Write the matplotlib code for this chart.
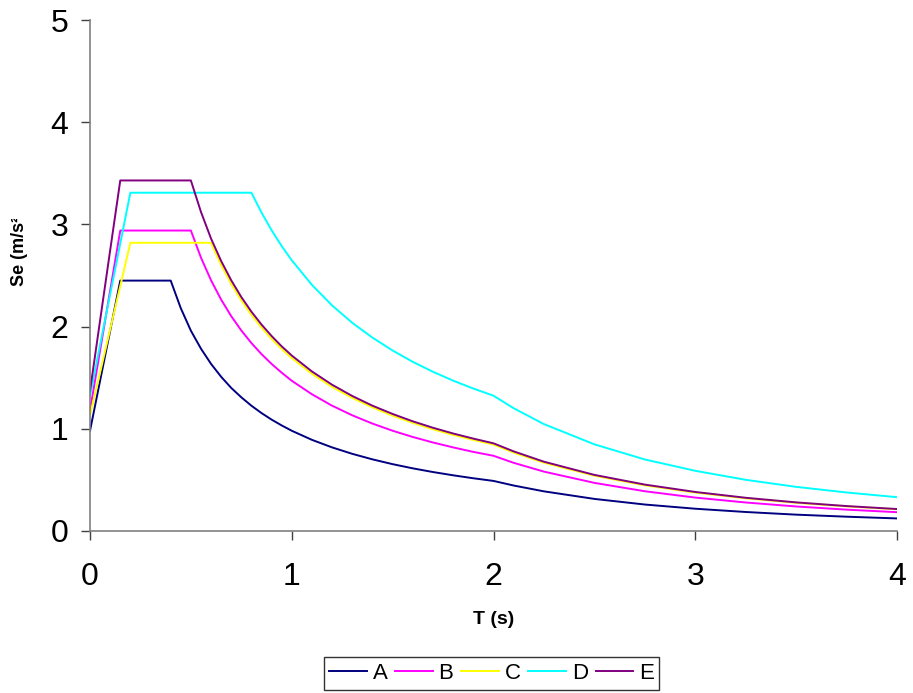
import matplotlib.pyplot as plt
from matplotlib.transforms import Bbox

plt.rcParams['font.family'] = ['Liberation Sans', 'DejaVu Sans']

# period grid (s) shared by all five ground types
period = [0.0, 0.05, 0.1, 0.15, 0.2, 0.3, 0.4, 0.45, 0.5, 0.55, 0.6, 0.65, 0.7,
          0.75, 0.8, 0.85, 0.9, 0.95, 1.0,
          1.1, 1.2, 1.3, 1.4, 1.5, 1.6, 1.7, 1.8, 1.9, 2.0,
          2.1, 2.25, 2.5, 2.75, 3.0, 3.25, 3.5, 3.75, 4.0]

# spectral acceleration Se (m/s2) per ground type
se_a = [0.98, 1.47, 1.96, 2.45, 2.45, 2.45, 2.45, 2.18, 1.96, 1.784, 1.635, 1.509, 1.40,
        1.308, 1.226, 1.154, 1.09, 1.033, 0.981,
        0.892, 0.818, 0.755, 0.701, 0.654, 0.613, 0.577, 0.545, 0.516, 0.49,
        0.445, 0.388, 0.314, 0.259, 0.218, 0.186, 0.160, 0.140, 0.123]
se_b = [1.18, 1.766, 2.354, 2.94, 2.94, 2.94, 2.94, 2.94, 2.94, 2.675, 2.453, 2.264, 2.102,
        1.962, 1.839, 1.731, 1.635, 1.549, 1.47,
        1.338, 1.226, 1.132, 1.051, 0.981, 0.920, 0.866, 0.818, 0.774, 0.736,
        0.667, 0.581, 0.471, 0.389, 0.327, 0.279, 0.240, 0.209, 0.184]
se_c = [1.13, 1.551, 1.974, 2.397, 2.82, 2.82, 2.82, 2.82, 2.82, 2.82, 2.82, 2.603, 2.417,
        2.256, 2.115, 1.991, 1.88, 1.781, 1.692,
        1.538, 1.41, 1.302, 1.209, 1.128, 1.058, 0.995, 0.94, 0.891, 0.846,
        0.767, 0.668, 0.541, 0.447, 0.376, 0.320, 0.276, 0.241, 0.212]
se_d = [1.32, 1.821, 2.318, 2.814, 3.31, 3.31, 3.31, 3.31, 3.31, 3.31, 3.31, 3.31, 3.31,
        3.31, 3.31, 3.116, 2.943, 2.788, 2.649,
        2.408, 2.207, 2.037, 1.892, 1.766, 1.655, 1.558, 1.471, 1.394, 1.324,
        1.201, 1.046, 0.848, 0.70, 0.589, 0.501, 0.432, 0.377, 0.331]
se_e = [1.37, 2.06, 2.747, 3.43, 3.43, 3.43, 3.43, 3.43, 3.43, 3.122, 2.861, 2.642, 2.453,
        2.289, 2.146, 2.02, 1.908, 1.807, 1.717,
        1.561, 1.431, 1.321, 1.226, 1.145, 1.073, 1.01, 0.954, 0.904, 0.858,
        0.779, 0.678, 0.549, 0.454, 0.382, 0.325, 0.280, 0.244, 0.215]

labels = ['A', 'B', 'C', 'D', 'E']
colors = ['#000080', '#FF00FF', '#FFFF00', '#00FFFF', '#800080']
series = [se_a, se_b, se_c, se_d, se_e]

fig = plt.figure(figsize=(9.13, 6.93), dpi=100)
ax = fig.add_axes([90 / 913, 1 - 531 / 693, (897 - 90) / 913, (531 - 20) / 693])

for vals, lab, col in zip(series, labels, colors):
    ax.plot(period, vals, color=col, lw=1.4, label=lab)

ax.set_xlim(0, 4)
ax.set_ylim(0, 5)
ax.set_xticks([0, 1, 2, 3, 4])
ax.set_yticks([0, 1, 2, 3, 4, 5])
ax.tick_params(labelsize=23, length=6.5, width=1, color='#404040')
ax.tick_params(axis='x', pad=16)
ax.tick_params(axis='y', pad=9)

for side in ['top', 'right']:
    ax.spines[side].set_visible(False)
for side in ['left', 'bottom']:
    ax.spines[side].set_color('#808080')
    ax.spines[side].set_linewidth(1.2)

fig.text(494 / 913, 1 - 619 / 693, 'T (s)', ha='center', va='center',
         fontsize=14, fontweight='bold')

# axis title is cut off at the top, as in the workbook export
ylab = fig.text(19 / 913, 1 - 286 / 693, 'Se (m/s²)', rotation=90,
                ha='center', va='bottom', fontsize=13, fontweight='bold')
ylab.set_clip_box(Bbox.from_extents(0, 0, 60, 693 - 219))
ylab.set_clip_on(True)

leg = fig.legend(loc='center', bbox_to_anchor=(491.5 / 913, 1 - 673.5 / 693),
                 ncol=5, fontsize=16, frameon=True, fancybox=False,
                 edgecolor='black', handlelength=1.7, handletextpad=0.25,
                 columnspacing=0.35, borderpad=0.25, borderaxespad=0)
leg.get_frame().set_linewidth(1.0)

fig.savefig('out.png', dpi=100)
